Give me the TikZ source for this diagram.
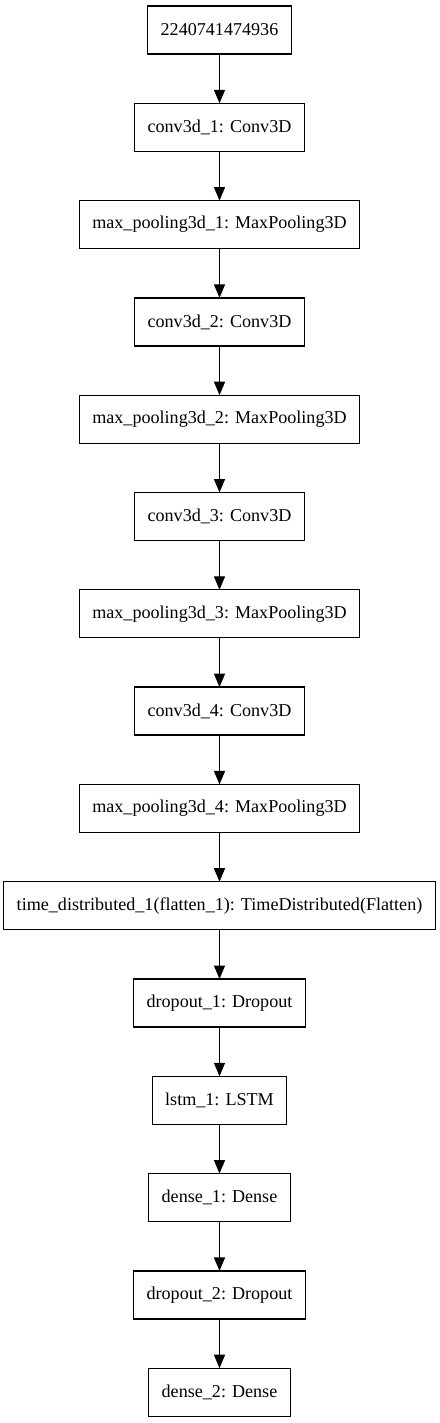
\documentclass[tikz,border=0pt]{standalone}
\usepackage{fontspec}
\setmainfont{Liberation Serif}
\usepackage{tikz}
\usetikzlibrary{positioning,arrows.meta}

\begin{document}
\begin{tikzpicture}[
  font=\fontsize{18.1}{22}\selectfont,
  layer/.style={rectangle, draw=black, line width=1.33pt, minimum height=48pt,
                inner xsep=13pt, outer sep=0pt, align=center},
  ar/.style={-{Triangle[length=13.5pt, width=11pt]}, line width=1.33pt, draw=black},
  node distance=49.3pt
]
\useasboundingbox (0,0) rectangle (439pt,-1423pt);

% Input and conv/pool stack
\node[layer] (inp) at (219.5pt,-30pt) {2240741474936};
\node[layer, below=of inp]   (conv1) {conv3d\_1: Conv3D};
\node[layer, below=of conv1] (pool1) {max\_pooling3d\_1: MaxPooling3D};
\node[layer, below=of pool1] (conv2) {conv3d\_2: Conv3D};
\node[layer, below=of conv2] (pool2) {max\_pooling3d\_2: MaxPooling3D};
\node[layer, below=of pool2] (conv3) {conv3d\_3: Conv3D};
\node[layer, below=of conv3] (pool3) {max\_pooling3d\_3: MaxPooling3D};
\node[layer, below=of pool3] (conv4) {conv3d\_4: Conv3D};
\node[layer, below=of conv4] (pool4) {max\_pooling3d\_4: MaxPooling3D};

% Flatten, recurrent and dense head
\node[layer, below=of pool4] (flat)  {time\_distributed\_1(flatten\_1): TimeDistributed(Flatten)};
\node[layer, below=of flat]  (drop1) {dropout\_1: Dropout};
\node[layer, below=of drop1] (lstm)  {lstm\_1: LSTM};
\node[layer, below=of lstm]  (dens1) {dense\_1: Dense};
\node[layer, below=of dens1] (drop2) {dropout\_2: Dropout};
\node[layer, below=of drop2] (dens2) {dense\_2: Dense};

% Arrows down the chain
\draw[ar] (inp)   -- (conv1);
\draw[ar] (conv1) -- (pool1);
\draw[ar] (pool1) -- (conv2);
\draw[ar] (conv2) -- (pool2);
\draw[ar] (pool2) -- (conv3);
\draw[ar] (conv3) -- (pool3);
\draw[ar] (pool3) -- (conv4);
\draw[ar] (conv4) -- (pool4);
\draw[ar] (pool4) -- (flat);
\draw[ar] (flat)  -- (drop1);
\draw[ar] (drop1) -- (lstm);
\draw[ar] (lstm)  -- (dens1);
\draw[ar] (dens1) -- (drop2);
\draw[ar] (drop2) -- (dens2);
\end{tikzpicture}
\end{document}
